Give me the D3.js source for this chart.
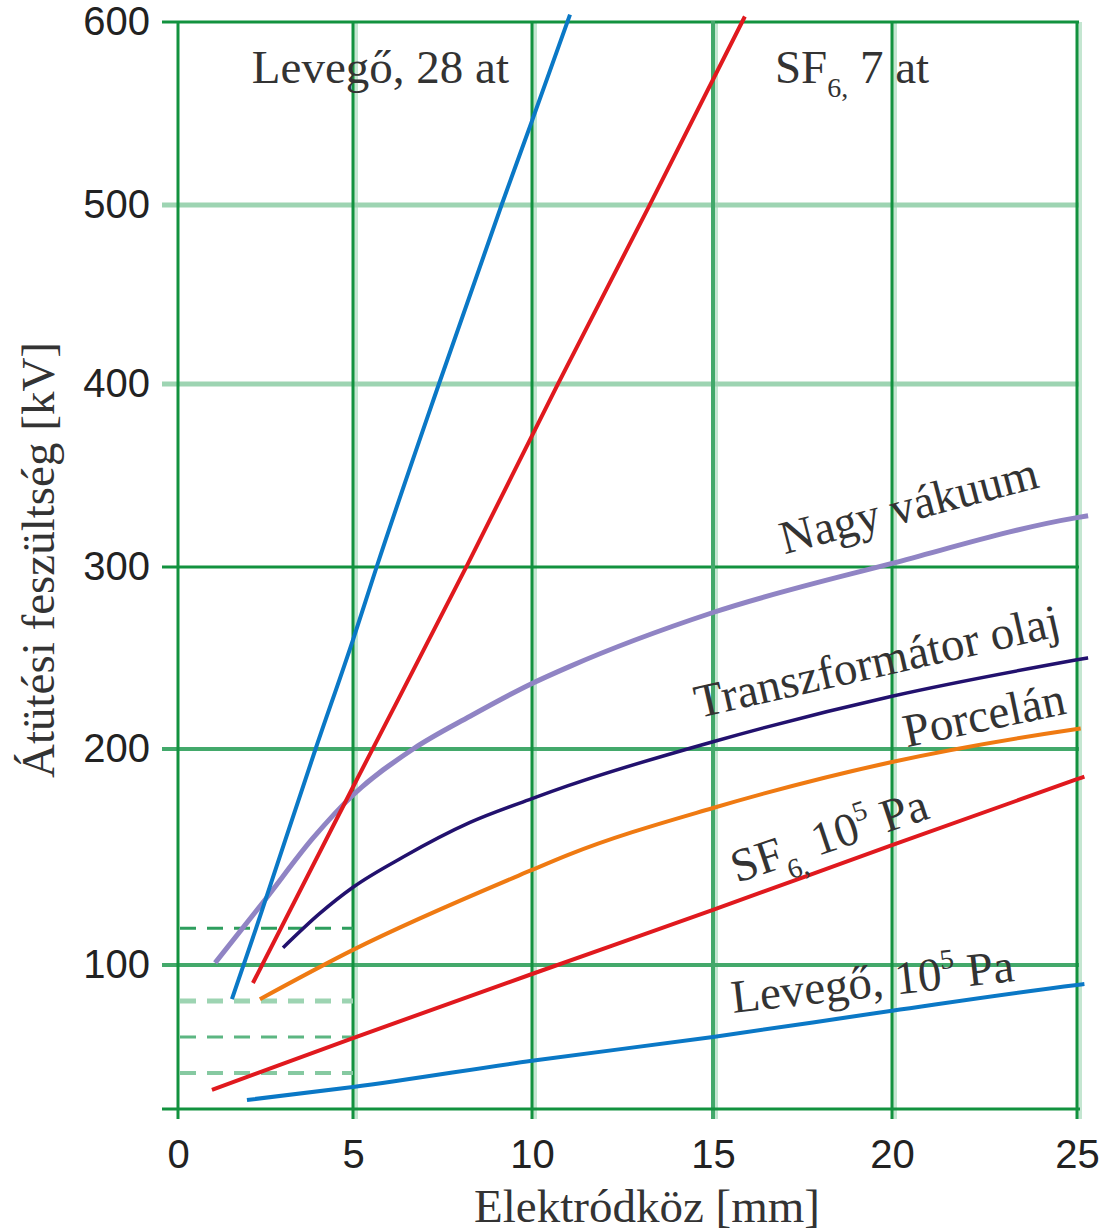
<!DOCTYPE html>
<html>
<head>
<meta charset="utf-8">
<script src="https://cdn.jsdelivr.net/npm/d3@7"></script>
<style>
  body { margin: 0; background: #fff; }
  svg { display: block; }
  .tick text { font-family: "Liberation Sans", Arial, sans-serif; font-size: 40px; fill: #222; }
  .lbl { font-family: "Liberation Serif", "Times New Roman", serif; font-size: 47px; fill: #333; }
</style>
</head>
<body>
<svg id="chart" width="1101" height="1231"></svg>
<script>
const xTicks = [0, 5, 10, 15, 20, 25];
const yTicks = [100, 200, 300, 400, 500, 600];
const yBottom = 20;
const refLevels = [117, 80, 60, 40];

// [gap mm, kV]
const air28at = [[1.54, 81], [2.23, 117], [3.93, 200], [5, 260], [5.66, 300], [7.4, 400], [9.15, 500], [10, 546], [11.05, 604]];
const sf6at7 = [[2.14, 90], [5, 182.4], [8.19, 301], [10.69, 399], [13.2, 498], [15.89, 603]];
const vacuum = [[1.06, 101], [2.46, 129.6], [3.86, 158.8], [5, 178.7], [6.68, 200], [8.27, 218], [10, 236], [11, 245], [15, 275], [20, 302], [25, 327], [25.3, 328]];
const trafoOil = [[3.0, 108], [4.06, 124], [5, 136], [6.4, 150], [8.27, 166], [10, 177], [11, 183], [15, 204], [20, 229], [25, 249], [25.3, 250.1]];
const porcelain = [[2.34, 81], [5, 107], [10, 144], [11, 151], [15, 172.7], [20, 194], [25, 211], [25.1, 211.3]];
const sf6Atm = [[0.97, 30.6], [5, 59.4], [10, 95], [15, 125.5], [20, 155.5], [25, 186], [25.2, 187.2]];
const airAtm = [[1.97, 25], [5, 32.2], [10, 46.8], [15, 60], [20, 74.6], [25, 88.9], [25.2, 89.4]];

const svg = d3.select("#chart");

// the original grid is not evenly spaced, so the scales are piecewise
const x = d3.scaleLinear().domain(xTicks).range([178, 353, 532, 713, 892, 1077]);
const y = d3.scaleLinear()
  .domain([yBottom].concat(yTicks))
  .range([1109, 965, 749, 567, 384, 205, 22]);

const dark = "#12923f", medium = "#43a96b", light = "#9dd4b2";
const hStyle = { 600: [dark, 3], 500: [light, 5], 400: [light, 5], 300: [dark, 3], 200: [medium, 4], 100: [medium, 4] };
const vStyle = { 0: [dark, 3], 5: [dark, 3], 10: [dark, 3], 15: [medium, 4], 20: [dark, 3], 25: [dark, 3] };

const grid = svg.append("g").attr("class", "grid");

// light halo next to vertical lines
grid.selectAll(".vhalo")
  .data(xTicks.filter(d => d > 0))
  .enter().append("line")
  .attr("x1", d => x(d) + 3).attr("x2", d => x(d) + 3)
  .attr("y1", y(600)).attr("y2", y(yBottom) + 10)
  .attr("stroke", "#c4e6d1").attr("stroke-width", 4);

grid.selectAll(".hline")
  .data(yTicks)
  .enter().append("line")
  .attr("x1", x(0) - 16).attr("x2", x(25) + 2)
  .attr("y1", d => y(d)).attr("y2", d => y(d))
  .attr("stroke", d => hStyle[d][0])
  .attr("stroke-width", d => hStyle[d][1]);

grid.selectAll(".vline")
  .data(xTicks)
  .enter().append("line")
  .attr("x1", d => x(d)).attr("x2", d => x(d))
  .attr("y1", y(600) - 1).attr("y2", y(yBottom) + 10)
  .attr("stroke", d => vStyle[d][0])
  .attr("stroke-width", d => vStyle[d][1]);

grid.append("line")
  .attr("x1", x(0) - 16).attr("x2", x(25) + 3)
  .attr("y1", y(yBottom)).attr("y2", y(yBottom))
  .attr("stroke", dark).attr("stroke-width", 3);

const refStyle = [["#2e9e5e", 3], [light, 5], ["#5cb682", 3], ["#86c9a1", 4]];
grid.selectAll(".ref")
  .data(refLevels)
  .enter().append("line")
  .attr("x1", x(0) + 2).attr("x2", x(5))
  .attr("y1", d => y(d)).attr("y2", d => y(d))
  .attr("stroke", (d, i) => refStyle[i][0])
  .attr("stroke-width", (d, i) => refStyle[i][1])
  .attr("stroke-dasharray", "16 11");

// axes: only labels, the tick lines are the grid
const yAxis = d3.axisLeft(y).tickValues(yTicks).tickSize(0).tickPadding(28);
svg.append("g").attr("transform", `translate(${x(0)},0)`).call(yAxis)
  .call(g => g.select(".domain").remove());

const xAxis = d3.axisBottom(x).tickValues(xTicks).tickSize(0).tickPadding(31);
svg.append("g").attr("transform", `translate(0,${y(yBottom)})`).call(xAxis)
  .call(g => g.select(".domain").remove());

const line = d3.line()
  .x(d => x(d[0]))
  .y(d => y(d[1]))
  .curve(d3.curveMonotoneX);

const series = [
  { data: vacuum, color: "#9084c4", w: 5 },
  { data: trafoOil, color: "#22116e", w: 3.5 },
  { data: porcelain, color: "#ef7a12", w: 4 },
  { data: sf6Atm, color: "#e0191e", w: 4 },
  { data: airAtm, color: "#0a78c6", w: 4 },
  { data: sf6at7, color: "#e0191e", w: 4 },
  { data: air28at, color: "#0a78c6", w: 4 }
];

svg.append("g").selectAll("path")
  .data(series)
  .enter().append("path")
  .attr("d", d => line(d.data))
  .attr("fill", "none")
  .attr("stroke", d => d.color)
  .attr("stroke-width", d => d.w)
  .attr("stroke-linecap", "butt");

// curve captions: anchor in data units, rotation in degrees
const captions = [
  { at: [2.11, 566.5], rot: 0, fill: "#555", parts: [["Levegő, 28 at"]] },
  { at: [16.73, 566.5], rot: 0, fill: "#555", parts: [["SF"], ["6,", "sub"], [" 7 at"]] },
  { at: [17.0, 307], rot: -14.7, fill: "#333", parts: [["Nagy vákuum"]] },
  { at: [14.6, 217], rot: -12.8, fill: "#333", parts: [["Transzformátor olaj"]] },
  { at: [20.4, 201], rot: -11.8, fill: "#333", parts: [["Porcelán"]] },
  { at: [15.67, 138], rot: -18.5, fill: "#333", parts: [["SF"], ["6,", "sub"], [" 10"], ["5", "sup"], [" Pa"]] },
  { at: [15.56, 73.3], rot: -6.5, fill: "#333", parts: [["Levegő, 10"], ["5", "sup"], [" Pa"]] }
];

captions.forEach(c => {
  const t = svg.append("text")
    .attr("class", "lbl")
    .attr("fill", c.fill)
    .attr("transform", `translate(${x(c.at[0])},${y(c.at[1])}) rotate(${c.rot})`);
  let shift = 0;
  c.parts.forEach(p => {
    const target = p[1] === "sub" ? 14 : p[1] === "sup" ? -20 : 0;
    t.append("tspan")
      .attr("dy", target - shift)
      .attr("font-size", p[1] ? 28 : null)
      .text(p[0]);
    shift = target;
  });
});

svg.append("text")
  .attr("class", "lbl")
  .attr("fill", "#444")
  .attr("x", 647).attr("y", 1222)
  .attr("text-anchor", "middle")
  .text("Elektródköz [mm]");

svg.append("text")
  .attr("class", "lbl")
  .attr("fill", "#333")
  .attr("font-size", 46)
  .attr("text-anchor", "middle")
  .attr("transform", "translate(54,560) rotate(-90)")
  .text("Átütési feszültség [kV]");
</script>
</body>
</html>
